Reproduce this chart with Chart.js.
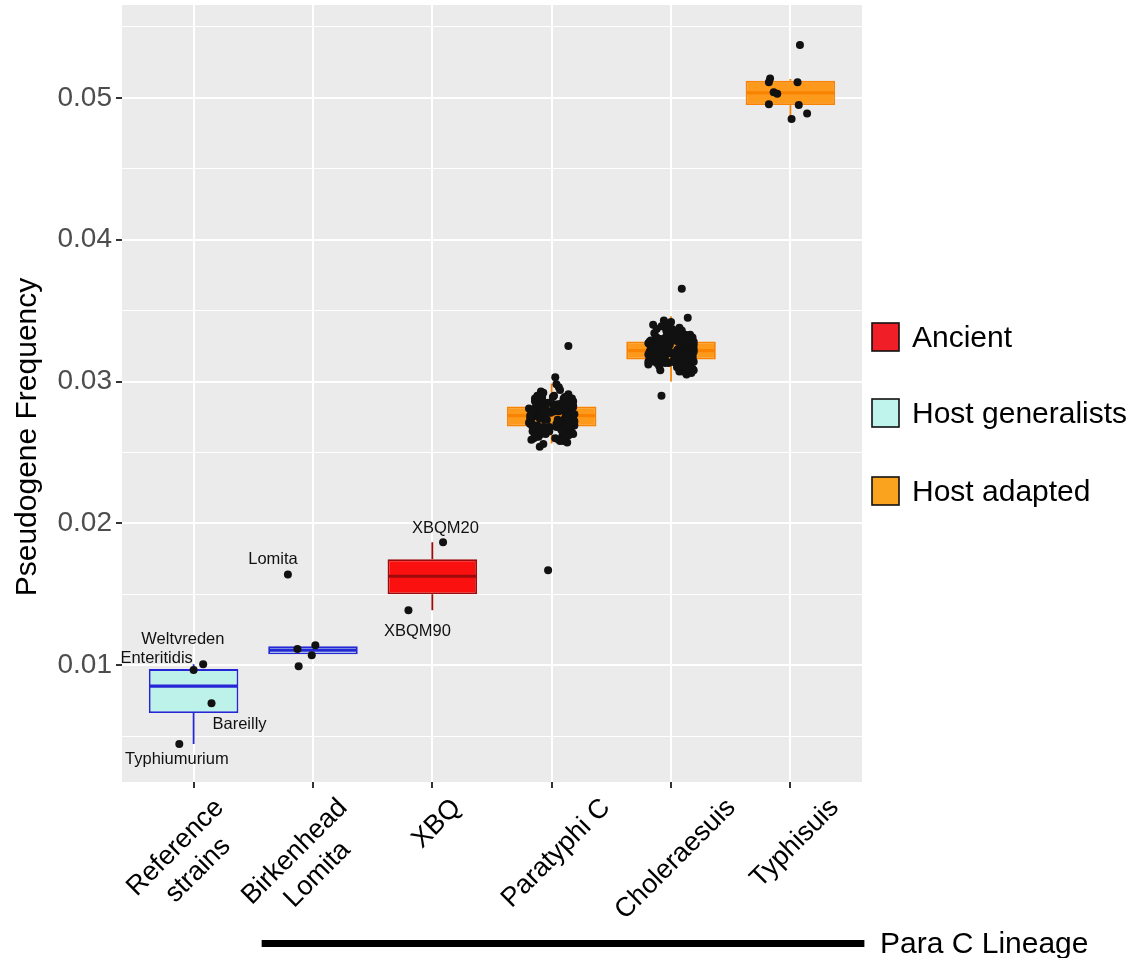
<!DOCTYPE html>
<html>
<head>
<meta charset="utf-8">
<script src="https://cdn.jsdelivr.net/npm/chart.js@4.4.1/dist/chart.umd.min.js"></script>
<style>
  html, body { margin: 0; padding: 0; background: #fff; }
</style>
</head>
<body>
<canvas id="pseudoChart" width="1144" height="958"></canvas>
<script>
const FONT = '"Liberation Sans", Arial, Helvetica, sans-serif';

// categories on the x axis (one entry per line of the tick label)
const categories = [["Reference", "strains"], ["Birkenhead", "Lomita"], ["XBQ"], ["Paratyphi C"], ["Choleraesuis"], ["Typhisuis"]];
const groupOf = ["Host generalists", "Host generalists", "Ancient", "Host adapted", "Host adapted", "Host adapted"];
const legendNames = ["Ancient", "Host generalists", "Host adapted"];

// box statistics
const q1 = [0.00662, 0.01077, 0.01500, 0.02683, 0.03155, 0.04950];
const medians = [0.00852, 0.01106, 0.01627, 0.02760, 0.03218, 0.05035];
const q3 = [0.00972, 0.01134, 0.01746, 0.02824, 0.03282, 0.05120];
const whiskerLo = [0.00444, 0.01077, 0.01387, 0.02563, 0.03000, 0.04838];
const whiskerHi = [0.01007, 0.01134, 0.01866, 0.02986, 0.03460, 0.05134];

// y axis ticks
const yMajor = [0.01, 0.02, 0.03, 0.04, 0.05];
const yGrid = [0.005, 0.01, 0.015, 0.02, 0.025, 0.03, 0.035, 0.04, 0.045, 0.05, 0.055];

// individual strains (y value + horizontal jitter in category units)
const refY = [0.01007, 0.00965, 0.00732, 0.00444];
const refDx = [0.08, 0.00, 0.15, -0.12];
const birkY = [0.0164, 0.01113, 0.0114, 0.0107, 0.00993];
const birkDx = [-0.21, -0.13, 0.02, -0.01, -0.12];
const xbqY = [0.01866, 0.01387];
const xbqDx = [0.09, -0.20];
const paraY = [
  0.0276, 0.0281, 0.0269, 0.0273, 0.0285, 0.0264, 0.0278, 0.0290, 0.0271, 0.0259,
  0.0283, 0.0277, 0.0266, 0.0288, 0.0274, 0.0280, 0.0262, 0.0279, 0.0270, 0.0286,
  0.0256, 0.0275, 0.0282, 0.0268, 0.0293, 0.0272, 0.0279, 0.0265, 0.0284, 0.0277,
  0.0261, 0.0287, 0.0273, 0.0280, 0.0267, 0.0296, 0.0275, 0.0258, 0.0282, 0.0270,
  0.0289, 0.0276, 0.0263, 0.0281, 0.0274, 0.0291, 0.0268, 0.0278, 0.0260, 0.0285,
  0.0272, 0.0280, 0.0266, 0.0277, 0.0287, 0.0269, 0.0275, 0.0283, 0.0257, 0.0279,
  0.0271, 0.0294, 0.0276, 0.0264, 0.0282, 0.0273, 0.0288, 0.0267, 0.0278, 0.0284,
  0.0262, 0.0274, 0.0281, 0.0270, 0.0290, 0.0265, 0.0277, 0.0286, 0.0259, 0.0280,
  0.0275, 0.0268, 0.0283, 0.0272, 0.0279, 0.0298, 0.0263, 0.0276, 0.0285, 0.0271,
  0.0254, 0.0282, 0.0278, 0.0266, 0.0289, 0.0274, 0.0303, 0.0261, 0.0280, 0.0277,
  0.0279, 0.0268, 0.0285, 0.0273, 0.0262, 0.0281, 0.0276, 0.0270, 0.0287, 0.0265,
  0.0278, 0.0283, 0.0271, 0.0258, 0.0280, 0.0274, 0.0289, 0.0267, 0.0277, 0.0284,
  0.0263, 0.0275, 0.0282, 0.0269, 0.0279, 0.0292, 0.0272, 0.0260, 0.0286, 0.0276,
  0.0281, 0.0266, 0.0274, 0.0288, 0.0270, 0.0278, 0.0264, 0.0283, 0.0273, 0.0280,
  0.0325, 0.0167
];
const paraDx = [
  -0.12, 0.08, -0.15, 0.14, -0.03, 0.17, -0.08, 0.02, 0.11, -0.17,
  0.05, -0.10, 0.13, -0.14, 0.18, -0.05, 0.09, 0.15, -0.18, 0.10,
  -0.07, 0.16, -0.13, 0.04, -0.09, 0.12, -0.01, -0.16, 0.07, 0.19,
  -0.11, 0.15, -0.04, 0.13, -0.12, 0.06, -0.17, 0.10, -0.06, 0.17,
  0.01, -0.14, 0.18, -0.09, 0.11, 0.14, -0.02, 0.16, -0.15, -0.11,
  0.16, 0.03, -0.13, 0.12, -0.08, 0.19, -0.16, 0.09, 0.13, -0.04,
  -0.19, 0.07, 0.15, -0.10, -0.06, 0.17, 0.10, 0.14, -0.14, 0.05,
  0.11, -0.18, 0.17, 0.08, -0.12, -0.03, 0.13, 0.18, 0.06, -0.15,
  0.14, -0.07, -0.12, 0.16, 0.02, 0.04, -0.09, 0.12, 0.15, -0.17,
  -0.10, 0.18, -0.05, 0.09, 0.11, 0.16, 0.03, -0.13, -0.08, 0.12,
  0.02, -0.16, 0.09, -0.06, 0.14, -0.19, 0.17, 0.04, -0.11, -0.02,
  0.12, -0.13, 0.18, 0.07, -0.15, 0.15, -0.08, 0.10, -0.17, 0.01,
  -0.05, 0.13, 0.16, -0.12, 0.06, -0.07, 0.19, 0.03, -0.14, -0.18,
  0.11, 0.08, -0.10, 0.17, 0.14, -0.01, -0.09, 0.18, 0.05, -0.16,
  0.14, -0.03
];
const cholY = [
  0.0322, 0.0318, 0.0327, 0.0313, 0.0324, 0.0330, 0.0316, 0.0321, 0.0335, 0.0310,
  0.0319, 0.0326, 0.0314, 0.0332, 0.0323, 0.0308, 0.0320, 0.0328, 0.0317, 0.0338,
  0.0312, 0.0325, 0.0321, 0.0315, 0.0331, 0.0319, 0.0309, 0.0327, 0.0322, 0.0340,
  0.0316, 0.0324, 0.0313, 0.0329, 0.0320, 0.0306, 0.0323, 0.0318, 0.0334, 0.0311,
  0.0326, 0.0321, 0.0317, 0.0330, 0.0314, 0.0325, 0.0319, 0.0343, 0.0312, 0.0328,
  0.0322, 0.0315, 0.0333, 0.0320, 0.0307, 0.0324, 0.0318, 0.0329, 0.0313, 0.0336,
  0.0321, 0.0316, 0.0326, 0.0310, 0.0323, 0.0331, 0.0319, 0.0314, 0.0327, 0.0322,
  0.0341, 0.0317, 0.0325, 0.0311, 0.0320, 0.0332, 0.0318, 0.0308, 0.0324, 0.0328,
  0.0315, 0.0321, 0.0337, 0.0313, 0.0326, 0.0319, 0.0330, 0.0316, 0.0323, 0.0305,
  0.0322, 0.0334, 0.0317, 0.0327, 0.0312, 0.0320, 0.0329, 0.0315, 0.0345, 0.0324,
  0.0318, 0.0309, 0.0325, 0.0321, 0.0333, 0.0314, 0.0328, 0.0319, 0.0339, 0.0311,
  0.0323, 0.0316, 0.0330, 0.0320, 0.0307, 0.0326, 0.0322, 0.0313, 0.0335, 0.0318,
  0.0324, 0.0310, 0.0328, 0.0321, 0.0317, 0.0342, 0.0325, 0.0315, 0.0331, 0.0319,
  0.0320, 0.0327, 0.0314, 0.0323, 0.0331, 0.0317, 0.0325, 0.0312, 0.0321, 0.0329,
  0.0316, 0.0324, 0.0336, 0.0319, 0.0310, 0.0326, 0.0322, 0.0315, 0.0333, 0.0318,
  0.0328, 0.0313, 0.0321, 0.0339, 0.0317, 0.0324, 0.0309, 0.0330, 0.0320, 0.0326,
  0.0315, 0.0322, 0.0334, 0.0318, 0.0327, 0.0311, 0.0323, 0.0319, 0.0332, 0.0316,
  0.0325, 0.0321, 0.0308, 0.0328, 0.0314, 0.0337, 0.0320, 0.0324, 0.0317, 0.0330,
  0.03655, 0.0290
];
const cholDx = [
  0.05, -0.14, 0.11, -0.02, 0.17, -0.09, 0.13, -0.18, 0.08, 0.15,
  -0.06, 0.19, -0.12, 0.03, -0.16, 0.10, -0.04, 0.14, -0.11, 0.07,
  -0.19, 0.12, -0.07, 0.16, 0.01, -0.13, 0.18, -0.05, 0.09, -0.15,
  0.13, -0.10, 0.04, -0.17, 0.11, 0.17, -0.08, 0.06, -0.14, 0.15,
  -0.03, 0.12, -0.16, 0.08, 0.19, -0.11, 0.02, -0.06, 0.14, -0.18,
  0.10, -0.13, 0.16, -0.01, 0.07, -0.09, 0.18, -0.15, 0.05, -0.04,
  0.13, -0.17, 0.09, 0.15, -0.07, -0.12, 0.11, 0.03, -0.19, 0.17,
  -0.02, 0.06, -0.10, 0.14, -0.16, 0.12, -0.05, 0.19, -0.14, 0.08,
  0.16, -0.08, 0.01, -0.12, 0.10, -0.18, 0.15, 0.04, -0.03, 0.13,
  -0.15, 0.07, -0.11, 0.18, 0.11, -0.06, 0.02, -0.17, 0.14, -0.09,
  0.09, 0.17, -0.13, -0.01, 0.12, -0.19, 0.06, 0.15, -0.04, -0.10,
  0.19, -0.07, 0.03, -0.16, 0.10, 0.14, -0.12, 0.08, -0.02, 0.16,
  -0.14, 0.05, -0.08, 0.13, -0.18, 0.00, 0.11, -0.05, 0.18, -0.11,
  -0.09, 0.14, -0.17, 0.06, -0.03, 0.18, -0.12, 0.11, -0.06, 0.16,
  0.03, -0.15, 0.09, -0.19, 0.13, -0.01, 0.17, -0.10, 0.07, -0.14,
  0.12, -0.05, 0.19, -0.08, 0.04, -0.16, 0.15, -0.11, 0.10, -0.02,
  0.18, -0.13, 0.02, 0.14, -0.18, 0.08, -0.07, 0.16, -0.04, 0.11,
  -0.14, 0.06, -0.09, 0.19, 0.01, -0.12, 0.13, -0.17, 0.09, -0.06,
  0.09, -0.08
];
const typhY = [0.05373, 0.05137, 0.0511, 0.0511, 0.0504, 0.0503, 0.04955, 0.0495, 0.0489, 0.04852];
const typhDx = [0.08, -0.17, -0.18, 0.06, -0.14, -0.11, -0.18, 0.07, 0.14, 0.01];

// strain names written next to some points
const strainNames = ["Weltvreden", "Enteritidis", "Bareilly", "Typhiumurium", "Lomita", "XBQM20", "XBQM90"];
const strainNameAt = [[0.91, 0.01183], [0.69, 0.01049], [1.385, 0.00585], [0.86, 0.00338], [1.665, 0.01746], [3.11, 0.01965], [2.875, 0.01239]];

// colours
const groupFill = { "Ancient": "#FB1010", "Host generalists": "#BDF2EA", "Host adapted": "#FD9A1C" };
const groupLine = { "Ancient": "#9E0A0A", "Host generalists": "#2626D6", "Host adapted": "#F98200" };
const legendFill = { "Ancient": "#F01E26", "Host generalists": "#BEF4EB", "Host adapted": "#F9A31F" };

const pointSets = [[refY, refDx], [birkY, birkDx], [xbqY, xbqDx], [paraY, paraDx], [cholY, cholDx], [typhY, typhDx]];
const points = [];
pointSets.forEach(([ys, dxs], i) => {
    ys.forEach((v, k) => points.push({ x: i + 1 + dxs[k], y: v }));
});

const isMajor = v => yMajor.some(m => Math.abs(m - v) < 1e-9);

const panelBg = {
    id: 'panelBg',
    beforeDraw(chart) {
        const { ctx, chartArea: a } = chart;
        ctx.save();
        ctx.fillStyle = '#EBEBEB';
        ctx.fillRect(a.left, a.top, a.right - a.left, a.bottom - a.top);
        ctx.restore();
    }
};

const boxParts = {
    id: 'boxParts',
    beforeDatasetsDraw(chart) {
        const { ctx, scales: { x, y } } = chart;
        ctx.save();
        ctx.lineWidth = 1.8;
        for (let i = 0; i < q1.length; i++) {
            const px = x.getPixelForValue(i + 1);
            ctx.strokeStyle = groupLine[groupOf[i]];
            ctx.beginPath();
            ctx.moveTo(px, y.getPixelForValue(whiskerLo[i]));
            ctx.lineTo(px, y.getPixelForValue(q1[i]));
            ctx.moveTo(px, y.getPixelForValue(q3[i]));
            ctx.lineTo(px, y.getPixelForValue(whiskerHi[i]));
            ctx.stroke();
        }
        ctx.restore();
    },
    afterDatasetDraw(chart, args) {
        if (args.index !== 0) return;
        const { ctx, scales: { y } } = chart;
        ctx.save();
        ctx.lineWidth = 3.2;
        args.meta.data.forEach((bar, i) => {
            const py = y.getPixelForValue(medians[i]);
            ctx.strokeStyle = groupLine[groupOf[i]];
            ctx.beginPath();
            ctx.moveTo(bar.x - bar.width / 2 + 1, py);
            ctx.lineTo(bar.x + bar.width / 2 - 1, py);
            ctx.stroke();
        });
        ctx.restore();
    }
};

const extras = {
    id: 'extras',
    afterDraw(chart) {
        const { ctx, scales: { x, y }, chartArea: a } = chart;
        ctx.save();

        // strain names
        ctx.fillStyle = '#111';
        ctx.font = '16.5px ' + FONT;
        ctx.textAlign = 'center';
        ctx.textBaseline = 'middle';
        strainNames.forEach((name, k) => {
            ctx.fillText(name, x.getPixelForValue(strainNameAt[k][0]), y.getPixelForValue(strainNameAt[k][1]));
        });

        // rotated category labels
        ctx.font = '27px ' + FONT;
        ctx.fillStyle = '#000';
        const lh = 32;
        categories.forEach((lines, i) => {
            const w = Math.max(...lines.map(l => ctx.measureText(l).width));
            const H = (lines.length - 1) * lh + 27;
            const cx = x.getPixelForValue(i + 1) + 14 - 0.707 * H / 2;
            const cy = a.bottom + 12 + (w + H) / (2 * Math.SQRT2);
            ctx.save();
            ctx.translate(cx, cy);
            ctx.rotate(-Math.PI / 4);
            lines.forEach((l, k) => ctx.fillText(l, 0, (k - (lines.length - 1) / 2) * lh));
            ctx.restore();
        });

        // y axis title
        ctx.save();
        ctx.font = '30px ' + FONT;
        ctx.translate(36, 437);
        ctx.rotate(-Math.PI / 2);
        ctx.textBaseline = 'alphabetic';
        ctx.fillText('Pseudogene Frequency', 0, 0);
        ctx.restore();

        // legend
        ctx.font = '30px ' + FONT;
        ctx.textAlign = 'left';
        const keyY = [337, 413, 491];
        legendNames.forEach((name, k) => {
            ctx.fillStyle = legendFill[name];
            ctx.fillRect(872, keyY[k] - 14, 27, 28);
            ctx.strokeStyle = '#111';
            ctx.lineWidth = 1.6;
            ctx.strokeRect(872, keyY[k] - 14, 27, 28);
            ctx.fillStyle = '#000';
            ctx.fillText(name, 912, keyY[k] + 2);
        });

        // lineage bar
        ctx.fillStyle = '#000';
        ctx.fillRect(x.getPixelForValue(1.57), 940, x.getPixelForValue(6.62) - x.getPixelForValue(1.57), 7);
        ctx.textBaseline = 'alphabetic';
        ctx.fillText('Para C Lineage', 880, 953);
        ctx.restore();
    }
};

Chart.defaults.font.family = FONT;

const chart = new Chart(document.getElementById('pseudoChart').getContext('2d'), {
    type: 'bar',
    data: {
        datasets: [
            {
                type: 'bar',
                data: categories.map((c, i) => ({ x: i + 1, y: [q1[i], q3[i]] })),
                backgroundColor: groupOf.map(g => groupFill[g]),
                borderColor: groupOf.map(g => groupLine[g]),
                borderWidth: 1.8,
                borderSkipped: false,
                categoryPercentage: 1,
                barPercentage: 0.75,
                order: 2
            },
            {
                type: 'scatter',
                data: points,
                pointRadius: 4,
                pointBackgroundColor: '#111',
                pointBorderWidth: 0,
                order: 1
            }
        ]
    },
    options: {
        responsive: false,
        devicePixelRatio: 1,
        animation: false,
        layout: { padding: { left: 0, top: 5, right: 282, bottom: 0 } },
        plugins: { legend: { display: false }, tooltip: { enabled: false } },
        scales: {
            x: {
                type: 'linear',
                min: 0.4,
                max: 6.6,
                offset: false,
                border: { display: false },
                grid: { color: '#fff', lineWidth: 2, tickColor: '#333', tickLength: 6, offset: false },
                ticks: { display: false },
                afterBuildTicks: s => { s.ticks = categories.map((c, i) => ({ value: i + 1 })); },
                afterFit: s => { s.height = 176; s.paddingLeft = 0; s.paddingRight = 0; }
            },
            y: {
                type: 'linear',
                min: 0.00176,
                max: 0.05655,
                border: { display: false },
                grid: {
                    color: '#fff',
                    lineWidth: c => isMajor(c.tick.value) ? 2 : 1,
                    tickColor: c => isMajor(c.tick.value) ? '#333' : 'rgba(0,0,0,0)',
                    tickLength: 6
                },
                ticks: {
                    color: '#4D4D4D',
                    font: { size: 28 },
                    padding: 4,
                    autoSkip: false,
                    callback: v => isMajor(v) ? v.toFixed(2) : ''
                },
                afterBuildTicks: s => { s.ticks = yGrid.map(v => ({ value: v })); },
                afterFit: s => { s.width = 122; s.paddingTop = 0; s.paddingBottom = 0; }
            }
        }
    },
    plugins: [panelBg, boxParts, extras]
});
</script>
</body>
</html>
